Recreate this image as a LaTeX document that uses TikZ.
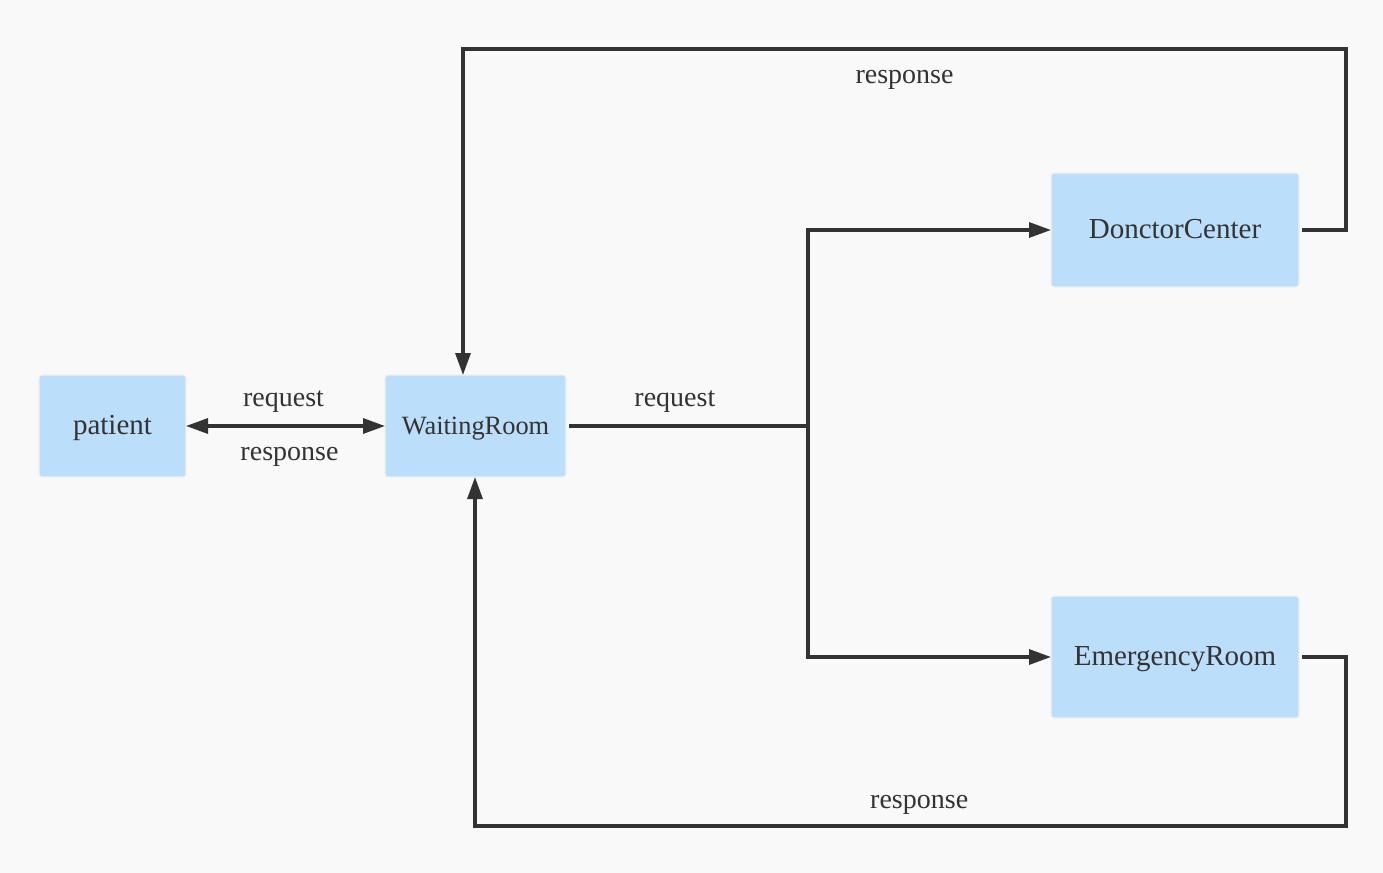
\documentclass[tikz,border=0pt]{standalone}
\usepackage{fontspec}
\setmainfont{Liberation Serif}
\usepackage{tikz}
\usetikzlibrary{arrows.meta,positioning,calc}
\definecolor{boxblue}{HTML}{BBDEFA}
\definecolor{inkgray}{HTML}{333333}
\definecolor{pagebg}{HTML}{F9F9F9}

\begin{document}
\begin{tikzpicture}[x=0.5pt, y=-0.5pt,
    >={Triangle[length=11pt,width=7.5pt]},
    room/.style={rectangle, draw=white!94!black, line width=0.6pt, fill=boxblue,
        text=inkgray, text centered, rounded corners=1.5pt, inner sep=0pt,
        outer sep=0pt, minimum height=51pt, text height=1em, text depth=0.2em,
        font=\fontsize{14.5}{17}\selectfont},
    lbl/.style={text=inkgray, text height=0.9em, text depth=0.2em,
        font=\fontsize{14}{17}\selectfont},
    wire/.style={draw=inkgray, line width=1.6pt},
    line/.style={wire, ->},
    gap/.style={shorten <=1.5pt}]

    % ====== Page ======
    \fill [pagebg] (0,0) rectangle (1383,873);
    \useasboundingbox (0,0) rectangle (1383,873);

    % ====== Front Side ======
    \node [room, minimum width=73.5pt] (patient) at (112.5,426) {patient};
    \node [room, minimum width=90.5pt, font=\fontsize{13.2}{16}\selectfont]
        (waiting) at (475.5,426) {WaitingRoom};

    % ====== Back Side ======
    \node [room, minimum width=124pt, minimum height=57pt] (doctor) at (1175,230)
        {DonctorCenter};
    \node [room, minimum width=124pt, minimum height=61pt] (emergency) at (1175,657)
        {EmergencyRoom};

    % ====== Bends ======
    \coordinate (split)    at (808,426);
    \coordinate (topright) at (1346,49);
    \coordinate (topleft)  at (463,49);
    \coordinate (botright) at (1346,826);
    \coordinate (botleft)  at (475,826);

    % ====== Lines ======
    \path [line, <->] (patient) --
        node[lbl, pos=0.49, yshift=13.5pt]{request}
        node[lbl, pos=0.52, yshift=-13.5pt]{response} (waiting);
    \path [wire, gap] (waiting) -- node[lbl, pos=0.45, yshift=13.5pt]{request} (split);
    \path [line] (split) |- (doctor);
    \path [line] (split) |- (emergency);
    \path [line, gap] (doctor) -| (topright) --
        node[lbl, yshift=-13.5pt]{response} (topleft) -- (waiting.north -| topleft);
    \path [line, gap] (emergency) -| (botright) --
        node[lbl, pos=0.49, yshift=12.5pt]{response} (botleft) -- (waiting.south -| botleft);
\end{tikzpicture}
\end{document}
